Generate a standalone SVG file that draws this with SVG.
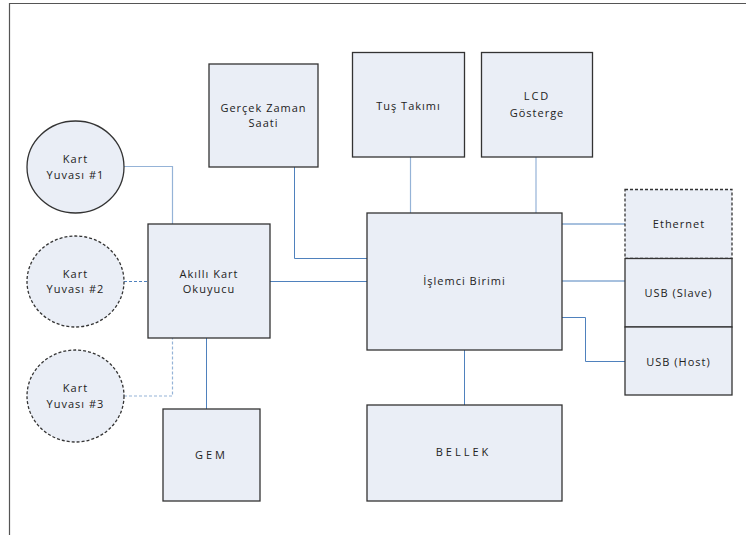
<svg xmlns="http://www.w3.org/2000/svg" width="746" height="535" viewBox="0 0 746 535">
<style>
.n{fill:#eaeef6;stroke:#333;stroke-width:1.3}
.d{stroke-dasharray:3,2}
.t{font-family:"Open Sans","Liberation Sans",sans-serif;font-size:11px;fill:#222;text-anchor:middle;letter-spacing:1px}
.c{fill:none;stroke:#4f81bd;stroke-width:1}
.l{fill:none;stroke:#95b3d7;stroke-width:1.2}
</style>
<rect width="746" height="535" fill="#fff"/>
<path d="M9.5 535V3.5H746" fill="none" stroke="#555" stroke-width="1.2"/>
<g id="connectors">
<path class="l" d="M124 166.5H172.5V224"/>
<path class="c d" d="M124 281.5H148"/>
<path class="l d" d="M124 396H172.5V338"/>
<path class="c" d="M206.5 338V409"/>
<path class="c" d="M270 281.5H367"/>
<path class="c" d="M294.5 167V258.5H367"/>
<path class="l" d="M410.5 157V213"/>
<path class="l" d="M536 157V213"/>
<path class="c" d="M562 224H625"/>
<path class="c" d="M562 281H625"/>
<path class="c" d="M562 317.5H585.5V361.5H625"/>
<path class="c" d="M464.5 350V405"/>
</g>
<g id="kart1"><ellipse class="n" cx="75.5" cy="167" rx="48.5" ry="46"/><text class="t" x="75.5" y="163">Kart</text><text class="t" x="75.5" y="178.5">Yuvası #1</text></g>
<g id="kart2"><ellipse class="n d" cx="75.5" cy="281.5" rx="48.5" ry="45.5"/><text class="t" x="75.5" y="277.5">Kart</text><text class="t" x="75.5" y="293">Yuvası #2</text></g>
<g id="kart3"><ellipse class="n d" cx="75.5" cy="396" rx="48.5" ry="46"/><text class="t" x="75.5" y="392">Kart</text><text class="t" x="75.5" y="407.5">Yuvası #3</text></g>
<g id="okuyucu"><rect class="n" x="148" y="224" width="122" height="114"/><text class="t" x="209" y="278">Akıllı Kart</text><text class="t" x="209" y="293">Okuyucu</text></g>
<g id="gem"><rect class="n" x="163" y="409" width="97" height="92"/><text class="t" x="211.5" y="459" style="letter-spacing:3px">GEM</text></g>
<g id="saat"><rect class="n" x="209" y="64" width="109" height="103"/><text class="t" x="263.5" y="112">Gerçek Zaman</text><text class="t" x="263.5" y="127">Saati</text></g>
<g id="tus"><rect class="n" x="352.5" y="52.5" width="112" height="104.5"/><text class="t" x="408.5" y="109.5">Tuş Takımı</text></g>
<g id="lcd"><rect class="n" x="481.5" y="52.5" width="111" height="104.5"/><text class="t" x="537" y="100" style="letter-spacing:2px">LCD</text><text class="t" x="537" y="116.5">Gösterge</text></g>
<g id="islemci"><rect class="n" x="367" y="213" width="195" height="137"/><text class="t" x="464.5" y="285">İşlemci Birimi</text></g>
<g id="bellek"><rect class="n" x="367" y="405" width="195" height="96"/><text class="t" x="463.5" y="456" style="letter-spacing:3px">BELLEK</text></g>
<g id="ethernet"><rect class="n d" x="625" y="189.5" width="107" height="69"/><text class="t" x="679" y="227.5">Ethernet</text></g>
<g id="usbslave"><rect class="n" x="625" y="258.5" width="107" height="68.5"/><text class="t" x="678.5" y="297">USB (Slave)</text></g>
<g id="usbhost"><rect class="n" x="625" y="327" width="107" height="68"/><text class="t" x="678.5" y="366">USB (Host)</text></g>
</svg>
